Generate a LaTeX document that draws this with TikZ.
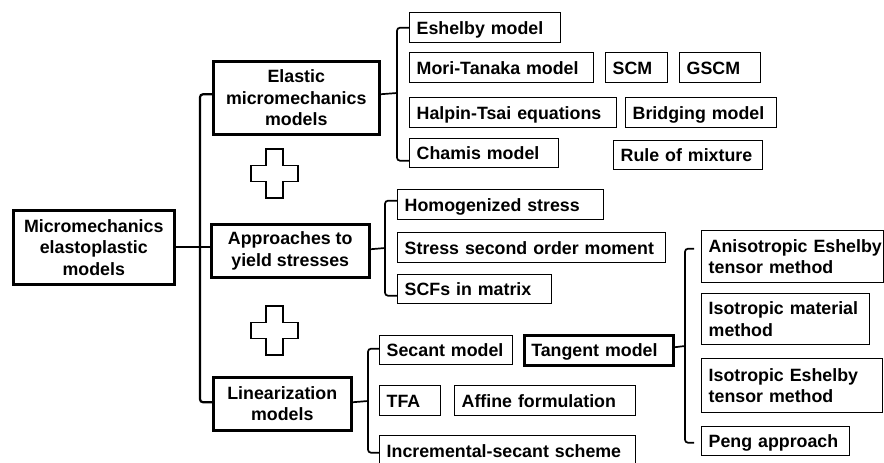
\documentclass[tikz,border=0pt]{standalone}
\usepackage{fontspec}
\setmainfont{Liberation Sans}
\begin{document}
\begin{tikzpicture}[x=1pt,y=-1pt,
  txt/.style={font=\bfseries\fontsize{17.8}{21.5}\selectfont},
  pbox/.style={txt,draw,line width=2.5pt,align=center,inner sep=0pt,anchor=north west},
  cbox/.style={txt,draw,line width=1.4pt,align=left,inner xsep=7pt,inner ysep=0pt,anchor=north west},
  sbox/.style={cbox,text height=12.8pt,text depth=0pt},
  mainline/.style={line width=2.2pt,rounded corners=3pt},
  childline/.style={line width=1.7pt,rounded corners=3pt},
  plusline/.style={line width=1.6pt,line join=miter},
  plussign/.pic={\draw[plusline] (-8.5,-24.5) -- (8.5,-24.5) -- (8.5,-8) -- (23.5,-8) -- (23.5,8) -- (8.5,8) -- (8.5,24.5) -- (-8.5,24.5) -- (-8.5,8) -- (-23.5,8) -- (-23.5,-8) -- (-8.5,-8) -- cycle;}
]
\useasboundingbox (0,0) rectangle (884,463);
\fill[white] (0,0) rectangle (884,463);

% parent boxes
\node[pbox,minimum width=161,minimum height=74] (Micro) at (12,209) {Micromechanics\\elastoplastic\\models};
\node[pbox,minimum width=166,minimum height=73] (Elastic) at (212,60) {Elastic\\micromechanics\\models};
\node[pbox,minimum width=158,minimum height=53] (Approach) at (210,223) {Approaches to\\yield stresses};
\node[pbox,minimum width=138,minimum height=53] (Lin) at (212,376) {Linearization\\models};
\node[sbox,line width=2.5pt,text width=135,minimum height=30] (Tangent) at (523,334) {Tangent model};

% elastic children
\node[sbox,text width=137,minimum height=30] (Eshelby) at (409,12) {Eshelby model};
\node[sbox,text width=170,minimum height=30] (Mori) at (409,52) {Mori-Tanaka model};
\node[sbox,text width=48,minimum height=30] (SCM) at (605,52) {SCM};
\node[sbox,text width=67,minimum height=30] (GSCM) at (679,52) {GSCM};
\node[sbox,text width=193,minimum height=30] (Halpin) at (409,97) {Halpin-Tsai equations};
\node[sbox,text width=137,minimum height=30] (Bridging) at (625,97) {Bridging model};
\node[sbox,text width=135,minimum height=29] (Chamis) at (409,138) {Chamis model};
\node[sbox,text width=135,minimum height=29] (Rule) at (613,140) {Rule of mixture};

% approaches children
\node[sbox,text width=192,minimum height=30] (Homog) at (397,189) {Homogenized stress};
\node[sbox,text width=254,minimum height=30] (Stress) at (397,232) {Stress second order moment};
\node[sbox,text width=140,minimum height=29] (SCFs) at (397,274) {SCFs in matrix};

% linearization children
\node[sbox,text width=119,minimum height=29] (Secant) at (379,335) {Secant model};
\node[sbox,text width=47,minimum height=30] (TFA) at (379,385) {TFA};
\node[sbox,text width=167,minimum height=30] (Affine) at (454,385) {Affine formulation};
\node[sbox,text width=242,minimum height=30] (Incr) at (379,435) {Incremental-secant scheme};

% tangent children
\node[cbox,text width=168,minimum height=52] (Aniso) at (701,230) {\mbox{Anisotropic Eshelby}\\\mbox{tensor method}};
\node[cbox,text width=154,minimum height=51] (IsoMat) at (701,293) {Isotropic material\\method};
\node[cbox,text width=167,minimum height=54] (IsoEsh) at (701,358) {Isotropic Eshelby\\tensor method};
\node[sbox,text width=134,minimum height=29] (Peng) at (701,426) {Peng approach};

% plus signs
\pic at (274.5,173.5) {plussign};
\pic at (274.5,330.5) {plussign};

% main connectors
\coordinate (mj) at (200,247);
\draw[mainline] (Micro.east) -- (Micro.east -| Approach.west);
\draw[mainline] ([yshift=3.5pt]Elastic.west) -| (mj) |- ([yshift=1.5pt]Lin.west);

% elastic bracket
\coordinate (ej) at (397,93);
\draw[childline] ([yshift=3.5pt]Elastic.east) -- (ej);
\draw[childline] (Eshelby.west) -| (ej) |- ([yshift=-7.5pt]Chamis.west);

% approaches bracket
\coordinate (aj) at (385,248);
\draw[childline] ([yshift=1.5pt]Approach.east) -- (aj);
\draw[childline] ([yshift=4pt]Homog.west) -| (aj) |- ([yshift=-6.5pt]SCFs.west);

% linearization bracket
\coordinate (lj) at (368,401);
\draw[childline] ([yshift=1.5pt]Lin.east) -- (lj);
\draw[childline] ([yshift=1.5pt]Secant.west) -| (lj) |- ([yshift=-2pt]Incr.west);

% tangent bracket
\coordinate (tj) at (685,346);
\draw[childline] ([yshift=3pt]Tangent.east) -- (tj);
\draw[childline] ([xshift=-7pt,yshift=8pt]Aniso.west) -| (tj) |- ([xshift=-7pt,yshift=-1.5pt]Peng.west);
\end{tikzpicture}
\end{document}
